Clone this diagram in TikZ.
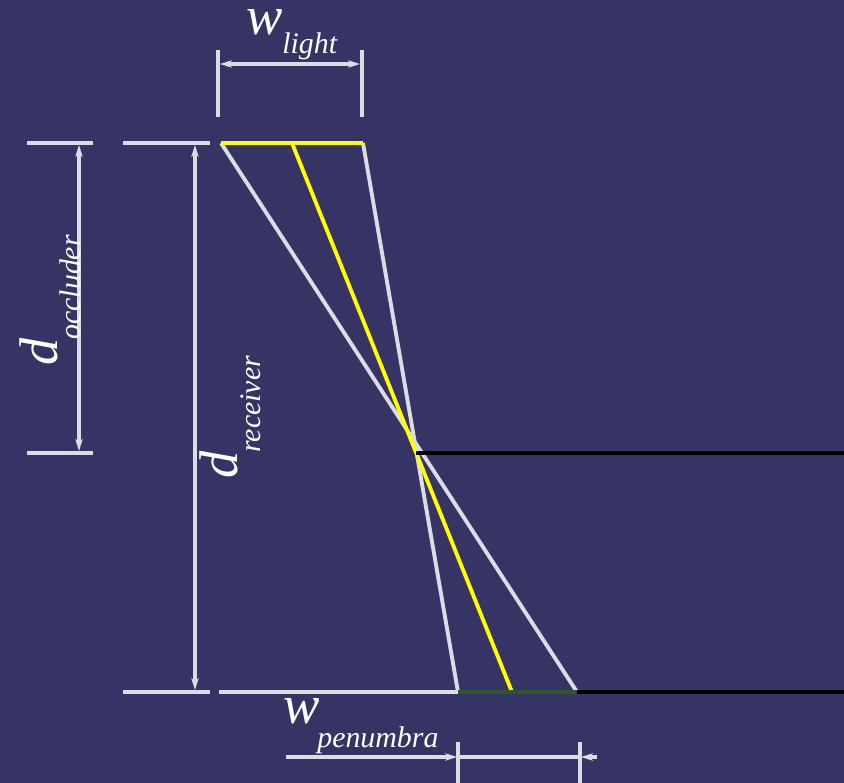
\documentclass[tikz,border=0pt]{standalone}
\usepackage{fontspec}
\setmainfont{Liberation Serif}
\usetikzlibrary{arrows.meta}
\definecolor{SH_BG}{HTML}{353464}
\definecolor{SH_GREY}{HTML}{DCDCE4}
\definecolor{SH_YELLOW}{HTML}{FFFF00}
\definecolor{SH_GREEN}{HTML}{2F5530}
\tikzset{
  tick/.style={draw=SH_GREY, line width=2.2pt},
  ray/.style={draw=SH_GREY, line width=2.2pt},
  lightray/.style={draw=SH_YELLOW, line width=2.2pt},
  surf/.style={draw=black, line width=2.2pt},
  dimline/.style={draw=SH_GREY, line width=1.8pt},
  dimarr/.style={dimline, {Stealth[length=2.4mm,width=1.5mm]}-{Stealth[length=2.4mm,width=1.5mm]}},
  onearr/.style={dimline, -{Stealth[length=2.4mm,width=1.5mm]}},
  bigsym/.style={inner sep=0pt, text=white, font=\fontsize{31}{31}\selectfont\itshape},
  subsym/.style={inner sep=0pt, text=white, font=\fontsize{17}{17}\selectfont\itshape},
}

\begin{document}
\begin{tikzpicture}[x=0.02cm, y=-0.02cm]

  \fill[SH_BG] (0,0) rectangle (844,783);
  \useasboundingbox (0,0) rectangle (844,783);

  % light, occluder edge, receiver
  \coordinate (la) at (221,143);
  \coordinate (lm) at (292,143);
  \coordinate (lb) at (363,143);
  \coordinate (oc) at (416,453);
  \coordinate (oe) at (844,453);
  \coordinate (rs) at (219,692);
  \coordinate (pa) at (458,692);
  \coordinate (pm) at (512,692);
  \coordinate (pb) at (577,692);
  \coordinate (re) at (844,692);

  \draw[ray] (la) -- (pb);
  \draw[ray] (lb) -- (pa);
  \draw[lightray] (lm) -- (pm);
  \draw[lightray] (la) -- (lb);
  \draw[surf] (oc) -- (oe);
  \draw[ray] (rs) -- (pa);
  \draw[draw=SH_GREEN, line width=2.2pt] (pa) -- (pb);
  \draw[surf] (pb) -- (re);

  % dimension ticks
  \draw[tick] (27,143) -- (93,143);
  \draw[tick] (27,453) -- (93,453);
  \draw[tick] (123,143) -- (210,143);
  \draw[tick] (123,692) -- (210,692);
  \draw[tick] (218,50) -- (218,117);
  \draw[tick] (362,50) -- (362,117);
  \draw[tick] (458,742) -- (458,783);
  \draw[tick] (580,742) -- (580,783);

  \coordinate (occtop) at (79,145);
  \coordinate (occbot) at (79,451);
  \coordinate (rectop) at (195,145);
  \coordinate (recbot) at (195,690);
  \coordinate (lgtl) at (220,64);
  \coordinate (lgtr) at (360,64);
  \coordinate (penin) at (286,757);
  \coordinate (pena) at (457,757);
  \coordinate (penb) at (581,757);
  \coordinate (penout) at (597,757);

  \draw[dimarr] (occtop) -- (occbot);
  \draw[dimarr] (rectop) -- (recbot);
  \draw[dimarr] (lgtl) -- (lgtr);
  \draw[onearr] (penin) -- (pena);
  \draw[dimline] (pena) -- (penb);
  \draw[onearr] (penout) -- (penb);

  % labels
  \node[bigsym, anchor=base west] (wl) at (246,35) {w};
  \node[subsym, anchor=base west] (wls) at (282,54) {light};
  \node[bigsym, anchor=base west, rotate=90] (docc) at (57,366) {d};
  \node[subsym, anchor=base west, rotate=90] (doccs) at (80,340) {occluder};
  \node[bigsym, anchor=base west, rotate=90] (drec) at (237,479) {d};
  \node[subsym, anchor=base west, rotate=90] (drecs) at (260,453) {receiver};
  \node[bigsym, anchor=base west] (wp) at (283,723) {w};
  \node[subsym, anchor=base west] (wps) at (317,747) {penumbra};

\end{tikzpicture}
\end{document}
